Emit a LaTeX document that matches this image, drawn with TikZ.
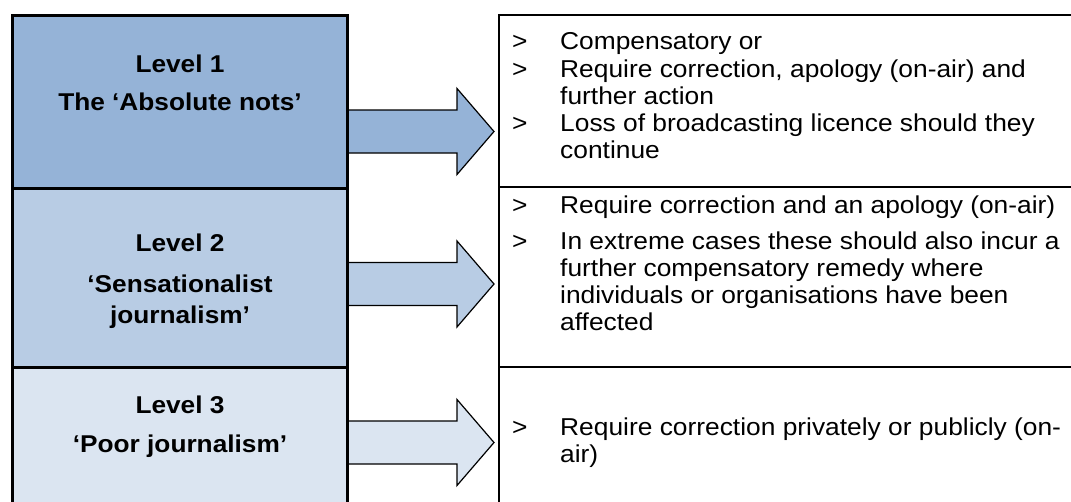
\documentclass[tikz,border=0pt]{standalone}
\usepackage{fontspec}
\setmainfont{Liberation Sans}
\newfontfamily\lvfont[FakeStretch=1.08]{Liberation Sans}
\definecolor{lone}{HTML}{95B3D7}
\definecolor{ltwo}{HTML}{B8CCE4}
\definecolor{lthree}{HTML}{DBE5F1}
\tikzset{
  lbox/.style={draw=black, line width=3pt, rectangle, outer sep=0pt, inner sep=0pt, anchor=north west, minimum width=334.5pt},
  rbox/.style={draw=black, line width=1.4pt, rectangle, outer sep=0pt, inner sep=0pt, anchor=north west, minimum width=600pt},
  blk/.style={draw=black, line width=1.2pt, line join=miter},
  ltxt/.style={anchor=base, inner sep=0pt, font=\lvfont\bfseries\fontsize{24.3pt}{27pt}\selectfont},
  rtxt/.style={anchor=base west, inner sep=0pt, font=\lvfont\fontsize{24.4pt}{27pt}\selectfont},
}
\begin{document}
\begin{tikzpicture}[x=1pt,y=-1pt]
\useasboundingbox (0,0) rectangle (1071,501);
\clip (0,0) rectangle (1071,501);
\fill[white] (0,0) rectangle (1071,501);

% right boxes
\node[rbox, minimum height=172pt] (R1) at (499,15) {};
\node[rbox, minimum height=180pt] (R2) at (499,187) {};
\node[rbox, minimum height=160pt] (R3) at (499,367) {};

% block arrows
\coordinate (a1) at (347,131.5);
\coordinate (a2) at (347,284);
\coordinate (a3) at (347,442.5);
\draw[blk, fill=lone] (a1) ++(0,-21.5) -- ++(110,0) -- ++(0,-21.5) -- ++(37,43) -- ++(-37,43) -- ++(0,-21.5) -- ++(-110,0) -- cycle;
\draw[blk, fill=ltwo] (a2) ++(0,-21.5) -- ++(110,0) -- ++(0,-21.5) -- ++(37,43) -- ++(-37,43) -- ++(0,-21.5) -- ++(-110,0) -- cycle;
\draw[blk, fill=lthree] (a3) ++(0,-21.5) -- ++(110,0) -- ++(0,-21.5) -- ++(37,43) -- ++(-37,43) -- ++(0,-21.5) -- ++(-110,0) -- cycle;

% left boxes
\node[lbox, fill=lone, minimum height=173pt] (L1) at (12.5,15) {};
\node[lbox, fill=ltwo, minimum height=179pt] (L2) at (12.5,188) {};
\node[lbox, fill=lthree, minimum height=160pt] (L3) at (12.5,367) {};

% left texts
\node[ltxt] (l1a) at (180,72) {Level 1};
\node[ltxt] (l1b) at (180,110) {The ‘Absolute nots’};
\node[ltxt] (l2a) at (180,251) {Level 2};
\node[ltxt] (l2b) at (180,292) {‘Sensationalist};
\node[ltxt] (l2c) at (180,323) {journalism’};
\node[ltxt] (l3a) at (180,413) {Level 3};
\node[ltxt] (l3b) at (180,452) {‘Poor journalism’};

% right texts
\node[rtxt] (g11) at (512,49) {>};
\node[rtxt] (t11) at (560,49) {Compensatory or};
\node[rtxt] (g12) at (512,77) {>};
\node[rtxt] (t12) at (560,77) {Require correction, apology (on-air) and};
\node[rtxt] (t13) at (560,104) {further action};
\node[rtxt] (g14) at (512,131) {>};
\node[rtxt] (t14) at (560,131) {Loss of broadcasting licence should they};
\node[rtxt] (t15) at (560,158) {continue};

\node[rtxt] (g21) at (512,213) {>};
\node[rtxt] (t21) at (560,213) {Require correction and an apology (on-air)};
\node[rtxt] (g22) at (512,249) {>};
\node[rtxt] (t22) at (560,249) {In extreme cases these should also incur a};
\node[rtxt] (t23) at (560,276) {further compensatory remedy where};
\node[rtxt] (t24) at (560,303) {individuals or organisations have been};
\node[rtxt] (t25) at (560,330) {affected};

\node[rtxt] (g31) at (512,435) {>};
\node[rtxt] (t31) at (560,435) {Require correction privately or publicly (on-};
\node[rtxt] (t32) at (560,462) {air)};
\end{tikzpicture}
\end{document}
